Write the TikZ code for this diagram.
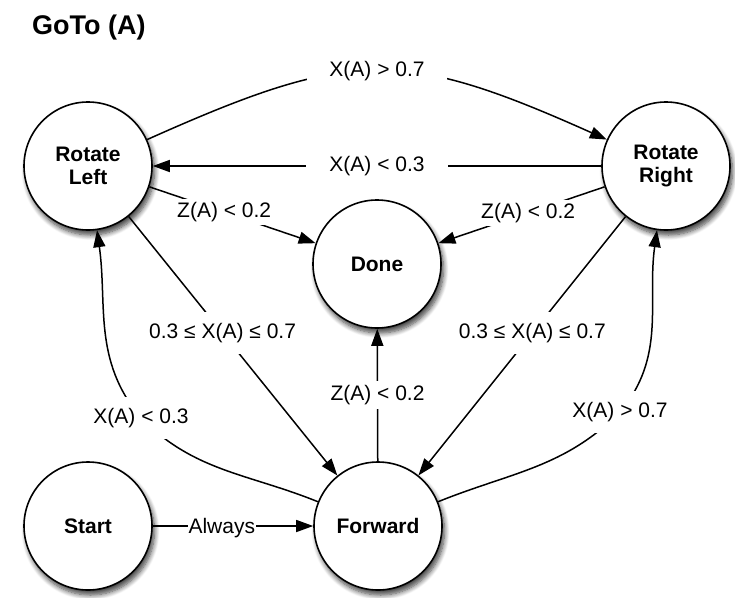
\documentclass[tikz,border=0pt]{standalone}
\usepackage{fontspec}
\setmainfont{Liberation Sans}
\usetikzlibrary{arrows.meta,shadows.blur}
\begin{document}
\begin{tikzpicture}[x=1pt,y=-1pt,
  state/.style={circle,draw,line width=1.6pt,fill=white,minimum size=128pt,
    inner sep=0pt,align=center,font=\fontsize{21}{23.5}\selectfont\bfseries,
    blur shadow={shadow xshift=2.5pt,shadow yshift=-5pt,shadow blur radius=5pt,
      shadow blur steps=8,shadow opacity=75}},
  conn/.style={line width=1.5pt,-{Triangle[length=17pt,width=12pt]}},
  lbl/.style={fill=white,font=\fontsize{21}{25}\selectfont,inner xsep=4pt,inner ysep=3pt},
]
\useasboundingbox (0,0) rectangle (735,597);

% title
\node[anchor=base west,font=\fontsize{27}{30}\selectfont\bfseries,inner sep=0pt] (title) at (32,34) {GoTo (A)};

% states
\node[state] (RL) at (88,166) {Rotate\\Left};
\node[state] (RR) at (666,166) {Rotate\\Right};
\node[state] (Done) at (377,264) {Done};
\node[state] (Start) at (88,526) {Start};
\node[state] (F) at (378,526) {Forward};

% bend points of the two curved returns
\coordinate (kL) at (141,418);
\coordinate (kR) at (620,412);

% transitions
\draw[conn] (RL) .. controls (352,48) and (402,48) .. node[lbl,inner xsep=22pt]{X(A) > 0.7} (RR);
\draw[conn] (RR) -- node[lbl,inner xsep=23pt]{X(A) < 0.3} (RL);
\draw[conn] (RL) -- node[lbl,pos=0.45]{Z(A) < 0.2} (Done);
\draw[conn] (RR) -- node[lbl,pos=0.46]{Z(A) < 0.2} (Done);
\draw[conn] (RL) -- node[lbl,pos=0.45,inner ysep=11pt]{0.3 ≤ X(A) ≤ 0.7} (F);
\draw[conn] (RR) -- node[lbl,pos=0.45,inner ysep=11pt]{0.3 ≤ X(A) ≤ 0.7} (F);
\draw[conn] (F) -- node[lbl,inner ysep=4.5pt]{Z(A) < 0.2} (Done);
\draw[conn] (F) to[out=158,in=-45] (kL) to[out=130,in=-82] (RL);
\node[lbl,inner ysep=11pt] (lkL) at (kL) {X(A) < 0.3};
\draw[conn] (F) to[out=22,in=-135] (kR) to[out=50,in=-98] (RR);
\node[lbl,inner ysep=11pt] (lkR) at (kR) {X(A) > 0.7};
\draw[conn] (Start) -- node[lbl,pos=0.43,inner xsep=1pt,text depth=0pt]{Always} (F);
\end{tikzpicture}
\end{document}
